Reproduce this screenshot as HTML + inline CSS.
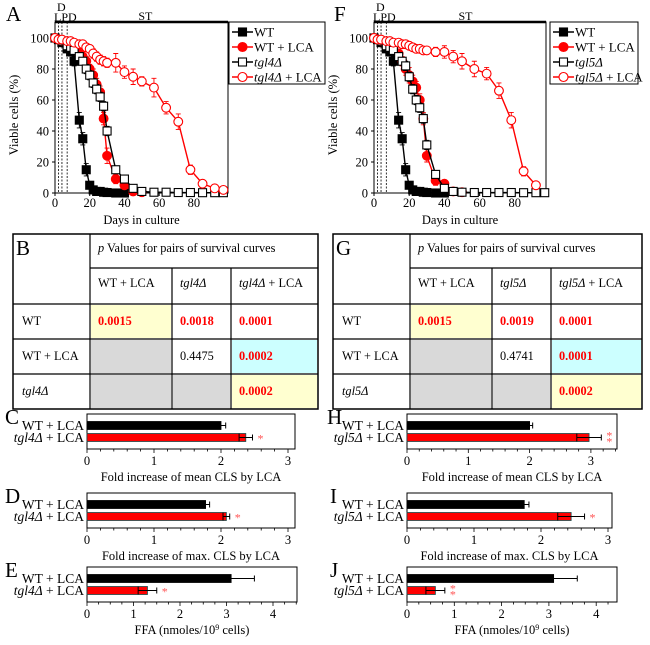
<!DOCTYPE html>
<html><head><meta charset="utf-8">
<style>
html,body{margin:0;padding:0;background:#fff;}
svg{display:block;font-family:"Liberation Serif",serif;}
</style></head>
<body>
<svg id="fig" width="650" height="645" viewBox="0 0 650 645" xmlns="http://www.w3.org/2000/svg"></svg>
<script>
// ===== Survival data =====
const daysA = [0,2,4,7,9,11,14,16,18,20,22,24,26,28,30,35,40,45,50,57,64,71,78,85,92,97];
const wtVals = [100,99,97,93,91,85,47,35,15,5,2,1,1,0.5,0.3,0,0,null,null,null,null,null,null,null,null,null];
const wtErr  = [0,1,2,2,2,3,5,4,4,2,1,1,0,0,0,0,0,null,null,null,null,null,null,null,null,null];
const wtLcaA = [100,99,98,97,96,94,90,88,85,80,76,70,65,48,24,9,5,1,0.5,null,null,null,null,null,null,null];
const wtLcaErrA = [0,1,1,1,1,2,2,3,3,3,4,4,4,4,5,3,2,1,0,null,null,null,null,null,null,null];
const tgl4Vals = [100,99,98,95,94,92,88,85,80,76,71,67,62,56,40,15,9,3,1,0.5,0.5,0.3,0.3,0.2,0.2,0.2];
const tgl4Err = [0,1,1,2,2,2,2,2,3,3,3,3,3,3,3,2,2,1,0,0,0,0,0,0,0,0];
const tgl4LcaVals = [100,99,99,98,98,97,96,96,94,93,90,88,86,85,84,84,78,75,72,68,55,46,15,6,3,2];
const tgl4LcaErr = [0,1,1,1,1,1,1,2,2,2,3,3,3,3,3,6,4,5,3,6,4,5,3,2,1,1];
const wtLcaF = [100,99,98,96,95,93,90,85,80,76,72,68,60,48,24,8,6,1,0.5,null,null,null,null,null,null,null];
const wtLcaErrF = [0,1,1,1,1,2,2,3,4,5,4,4,4,4,4,3,2,1,0,null,null,null,null,null,null,null];
const tgl5Vals = [100,99,98,95,94,92,88,85,82,75,67,60,55,48,31,12,3,1,0.5,0.3,0.3,0.3,0.3,0.2,0.2,0.2];
const tgl5Err = [0,1,1,2,2,2,2,2,3,3,3,3,3,3,3,2,1,0,0,0,0,0,0,0,0,0];
const tgl5LcaVals = [100,99,99,98,98,97,97,96,96,95,94,93,93,92,92,91,91,88,85,80,77,66,47,14,5,null];
const tgl5LcaErr = [0,1,1,1,1,1,1,1,1,1,2,2,2,2,2,3,4,4,5,5,4,5,5,3,2,null];
const xTicks = [0,20,40,60,80];
const yTicks = [0,20,40,60,80,100];

// ===== Bar data =====
const meanA = [2.0,2.37], meanAErr=[0.07,0.1];
const maxA = [1.77,2.08], maxAErr=[0.06,0.05];
const ffaA = [3.1,1.3], ffaAErr=[0.5,0.2];
const meanF = [2.0,2.97], meanFErr=[0.05,0.2];
const maxF = [1.75,2.45], maxFErr=[0.07,0.2];
const ffaF = [3.1,0.6], ffaFErr=[0.5,0.2];

const NS="http://www.w3.org/2000/svg";
const svg=document.getElementById('fig');
function el(tag,attrs,parent){const e=document.createElementNS(NS,tag);for(const k in attrs)e.setAttribute(k,attrs[k]);(parent||svg).appendChild(e);return e;}
function txt(x,y,s,attrs,parent){const t=el('text',Object.assign({x:x,y:y,'font-size':12,fill:'#000'},attrs||{}),parent);t.innerHTML=s;return t;}

function survival(cfg){
  const g=el('g',{});
  
  
  const x0=cfg.x0, xs=cfg.xs, yb=193, yt=38;
  const X=d=>x0+d*xs, Y=v=>yb-(v/100)*(yb-yt);
  const fr=el('rect',{x:x0,y:22,width:cfg.right-x0,height:yb-22,fill:'none',stroke:'#000','stroke-width':1},g);
  
  el('line',{x1:x0,y1:22,x2:cfg.right,y2:22,stroke:'#000','stroke-width':2.5},g);
  [2,4,7].forEach(d=>el('line',{x1:X(d),y1:22,x2:X(d),y2:yb,stroke:'#000','stroke-width':0.8,'stroke-dasharray':'2,1.5'},g));
  txt(x0+2,11,'D',{'font-size':12},g);
  txt(x0-1,21,'LPD',{'font-size':12},g);
  txt(X(48),20,'ST',{'font-size':12},g);
  txt(cfg.letterX,21,cfg.letter,{'font-size':21},g);
  xTicks.forEach(t=>{el('line',{x1:X(t),y1:yb,x2:X(t),y2:yb+3,stroke:'#000'},g);txt(X(t),207,t,{'text-anchor':'middle','font-size':12.5},g);});
  yTicks.forEach(t=>{el('line',{x1:x0-3,y1:Y(t),x2:x0,y2:Y(t),stroke:'#000'},g);txt(x0-6,Y(t)+4.5,t,{'text-anchor':'end','font-size':12.5},g);});
  const xl=txt((x0+cfg.right)/2,224,'Days in culture',{'text-anchor':'middle','font-size':12.5},g);
  
  const yl=txt(0,0,'Viable cells (%)',{'text-anchor':'middle','font-size':12.5,transform:`translate(${x0-37},115) rotate(-90)`},g);
  
  cfg.series.forEach(s=>{
    const sg=el('g',{},g);
    
    
    let pts=[];
    daysA.forEach((d,i)=>{if(s.v[i]!=null)pts.push([X(d),Y(s.v[i]),s.e[i]]);});
    el('polyline',{points:pts.map(p=>p[0]+','+p[1]).join(' '),fill:'none',stroke:s.c,'stroke-width':1.4},sg);
    pts.forEach(p=>{if(p[2]>0){const h=p[2]*(yb-yt)/100;el('path',{d:`M${p[0]},${p[1]-h}V${p[1]+h}M${p[0]-2.5},${p[1]-h}h5M${p[0]-2.5},${p[1]+h}h5`,stroke:s.c,'stroke-width':0.9,fill:'none'},sg);}});
    pts.forEach(p=>{
      let m;
      if(s.shape==='sq') m=el('rect',{x:p[0]-4,y:p[1]-4,width:8,height:8,fill:s.fill,stroke:s.c,'stroke-width':1.1},sg);
      else m=el('circle',{cx:p[0],cy:p[1],r:4.4,fill:s.fill,stroke:s.c,'stroke-width':1.1},sg);
      
    });
  });
  const lg=el('g',{},g);
  
  el('rect',{x:cfg.lx,y:22,width:cfg.lw,height:62,fill:'#fff',stroke:'#000'},lg);
  cfg.series.forEach((s,i)=>{
    const ly=32+i*15;
    const eg=el('g',{},lg);
    
    el('line',{x1:cfg.lx+3,y1:ly,x2:cfg.lx+24,y2:ly,stroke:s.c,'stroke-width':1.4},eg);
    if(s.shape==='sq') el('rect',{x:cfg.lx+9.5,y:ly-4,width:8,height:8,fill:s.fill,stroke:s.c,'stroke-width':1.1},eg);
    else el('circle',{cx:cfg.lx+13.5,cy:ly,r:4.5,fill:s.fill,stroke:s.c,'stroke-width':1.1},eg);
    txt(cfg.lx+25,ly+4.5,s.label,{'font-size':13},eg);
  });
}

survival({name:'panel-a-survival-chart',letter:'A',letterX:6,x0:55,xs:1.736,right:228,lx:229,lw:96,
 series:[
 {key:'wt',v:wtVals,e:wtErr,c:'#000',fill:'#000',shape:'sq',label:'WT'},
 {key:'wt-lca',v:wtLcaA,e:wtLcaErrA,c:'#f00',fill:'#f00',shape:'ci',label:'WT + LCA'},
 {key:'tgl4',v:tgl4Vals,e:tgl4Err,c:'#000',fill:'#fff',shape:'sq',label:'<tspan font-style="italic">tgl4Δ</tspan>'},
 {key:'tgl4-lca',v:tgl4LcaVals,e:tgl4LcaErr,c:'#f00',fill:'#fff',shape:'ci',label:'<tspan font-style="italic">tgl4Δ</tspan> + LCA'}]});
survival({name:'panel-f-survival-chart',letter:'F',letterX:334,x0:374,xs:1.76,right:546,lx:550,lw:88,
 series:[
 {key:'wt',v:wtVals,e:wtErr,c:'#000',fill:'#000',shape:'sq',label:'WT'},
 {key:'wt-lca',v:wtLcaF,e:wtLcaErrF,c:'#f00',fill:'#f00',shape:'ci',label:'WT + LCA'},
 {key:'tgl5',v:tgl5Vals,e:tgl5Err,c:'#000',fill:'#fff',shape:'sq',label:'<tspan font-style="italic">tgl5Δ</tspan>'},
 {key:'tgl5-lca',v:tgl5LcaVals,e:tgl5LcaErr,c:'#f00',fill:'#fff',shape:'ci',label:'<tspan font-style="italic">tgl5Δ</tspan> + LCA'}]});

// ===== Tables =====
function table(cfg){
  const g=el('g',{});
  
  const c=cfg.cols, r=[234,268,304,339,374,409];
  const fills=[[null,'#ffffd0',null,null],[null,'#d9d9d9',null,'#ccffff'],[null,'#d9d9d9','#d9d9d9','#ffffd0']];
  for(let i=0;i<3;i++)for(let j=1;j<4;j++){if(fills[i][j])el('rect',{x:c[j]+1,y:r[i+2]+1,width:c[j+1]-c[j]-2,height:r[i+3]-r[i+2]-2,fill:fills[i][j]},g);}
  el('rect',{x:c[0],y:r[0],width:c[4]-c[0],height:r[5]-r[0],fill:'none',stroke:'#000','stroke-width':1.5},g);
  el('line',{x1:c[1],y1:r[0],x2:c[1],y2:r[5],stroke:'#000','stroke-width':1.2},g);
  el('line',{x1:c[1],y1:r[1],x2:c[4],y2:r[1],stroke:'#000','stroke-width':1.2},g);
  for(let i=2;i<5;i++)el('line',{x1:c[0],y1:r[i],x2:c[4],y2:r[i],stroke:'#000','stroke-width':1.2},g);
  el('line',{x1:c[2],y1:r[1],x2:c[2],y2:r[5],stroke:'#000','stroke-width':1.2},g);
  el('line',{x1:c[3],y1:r[1],x2:c[3],y2:r[5],stroke:'#000','stroke-width':1.2},g);
  txt(c[0]+3,255,cfg.letter,{'font-size':21},g);
  txt(c[1]+8,252,'<tspan font-style="italic">p</tspan> Values for pairs of survival curves',{'font-size':12.3},g);
  const hd=['WT + LCA',`<tspan font-style="italic">${cfg.g}Δ</tspan>`,`<tspan font-style="italic">${cfg.g}Δ</tspan> + LCA`];
  hd.forEach((h,j)=>txt(c[j+1]+8,287,h,{'font-size':12.3},g));
  const rl=['WT','WT + LCA',`<tspan font-style="italic">${cfg.g}Δ</tspan>`];
  rl.forEach((h,i)=>txt(c[0]+9,r[i+2]+21,h,{'font-size':12.3},g));
  cfg.vals.forEach((row,i)=>row.forEach((v,j)=>{if(v){const red=v!=='0.4475'&&v!=='0.4741';txt(c[j+1]+8,r[i+2]+21,v,{'font-size':12.3,fill:red?'#f00':'#000','font-weight':red?'bold':'normal'},g);}}));
}
table({name:'table-b-p-values',letter:'B',g:'tgl4',cols:[13,90,172,231,318],vals:[['0.0015','0.0018','0.0001'],['','0.4475','0.0002'],['','','0.0002']]});
table({name:'table-g-p-values',letter:'G',g:'tgl5',cols:[333,410,492,551,642],vals:[['0.0015','0.0019','0.0001'],['','0.4741','0.0001'],['','','0.0002']]});

// ===== Bar charts =====
function bars(cfg){
  const g=el('g',{});
  
  const X=v=>cfg.x0+v*cfg.u;
  const yt=cfg.y, yb=cfg.y+35;
  el('rect',{x:cfg.x0,y:yt,width:cfg.right-cfg.x0,height:35,fill:'#fff',stroke:'#000'},g);
  for(let v=0;X(v)<=cfg.right+0.1;v+=cfg.minor){el('line',{x1:X(v),y1:yb,x2:X(v),y2:yb+(Math.abs(v-Math.round(v))<1e-6?4:2.5),stroke:'#000','stroke-width':0.8},g);}
  cfg.ticks.forEach(t=>txt(X(t),yb+16,t,{'text-anchor':'middle','font-size':12.5},g));
  const tl=txt((cfg.x0+cfg.right)/2,yb+32,cfg.title,{'text-anchor':'middle','font-size':12.5},g);
  
  txt(cfg.lx,yt+10,cfg.letter,{'font-size':21},g);
  const labels=['WT + LCA',`<tspan font-style="italic">${cfg.gene}Δ</tspan> + LCA`];
  const ys=[yt+7.5,yt+19.5];
  cfg.vals.forEach((v,i)=>{
    const red=i===1;
    const b=el('rect',{x:cfg.x0,y:ys[i],width:X(v)-cfg.x0,height:8,fill:red?'#f00':'#000',stroke:red?'#1a4a4a':'#000','stroke-width':0.8},g);
    
    const e=cfg.errs[i],cy=ys[i]+4;
    el('path',{d:`M${X(v-e)},${cy}H${X(v+e)}M${X(v+e)},${cy-3}v6`+(red?`M${X(v-e)},${cy-4}v8`:''),stroke:'#000','stroke-width':1,fill:'none'},g);
    txt(cfg.x0-3,ys[i]+8.5,labels[i],{'text-anchor':'end','font-size':13.5},g);
    if(red){const sx=X(v+e)+8;if(cfg.stars===1)txt(sx,cy+5,'*',{fill:'#f55','font-size':12,'text-anchor':'middle'},g);else{txt(sx,cy+2,'*',{fill:'#f55','font-size':12,'text-anchor':'middle'},g);txt(sx,cy+8,'*',{fill:'#f55','font-size':12,'text-anchor':'middle'},g);}}
  });
}
const t3=[0,1,2,3], t4=[0,1,2,3,4];
bars({name:'panel-c-mean-cls',letter:'C',lx:5,gene:'tgl4',x0:87,u:67,right:295,y:414,minor:0.2,ticks:t3,vals:meanA,errs:meanAErr,stars:1,title:'Fold increase of mean CLS by LCA'});
bars({name:'panel-d-max-cls',letter:'D',lx:5,gene:'tgl4',x0:87,u:67,right:295,y:493,minor:0.2,ticks:t3,vals:maxA,errs:maxAErr,stars:1,title:'Fold increase of max. CLS by LCA'});
bars({name:'panel-e-ffa',letter:'E',lx:5,gene:'tgl4',x0:87,u:46.5,right:297,y:567,minor:0.25,ticks:t4,vals:ffaA,errs:ffaAErr,stars:1,title:'FFA (nmoles/10<tspan baseline-shift="super" font-size="8">9</tspan> cells)'});
bars({name:'panel-h-mean-cls',letter:'H',lx:327,gene:'tgl5',x0:407,u:61.3,right:617,y:414,minor:0.2,ticks:t3,vals:meanF,errs:meanFErr,stars:2,title:'Fold increase of mean CLS by LCA'});
bars({name:'panel-i-max-cls',letter:'I',lx:330,gene:'tgl5',x0:407,u:67,right:612,y:493,minor:0.2,ticks:t3,vals:maxF,errs:maxFErr,stars:1,title:'Fold increase of max. CLS by LCA'});
bars({name:'panel-j-ffa',letter:'J',lx:330,gene:'tgl5',x0:407,u:47.3,right:617,y:567,minor:0.25,ticks:t4,vals:ffaF,errs:ffaFErr,stars:2,title:'FFA (nmoles/10<tspan baseline-shift="super" font-size="8">9</tspan> cells)'});
</script>
</body></html>
